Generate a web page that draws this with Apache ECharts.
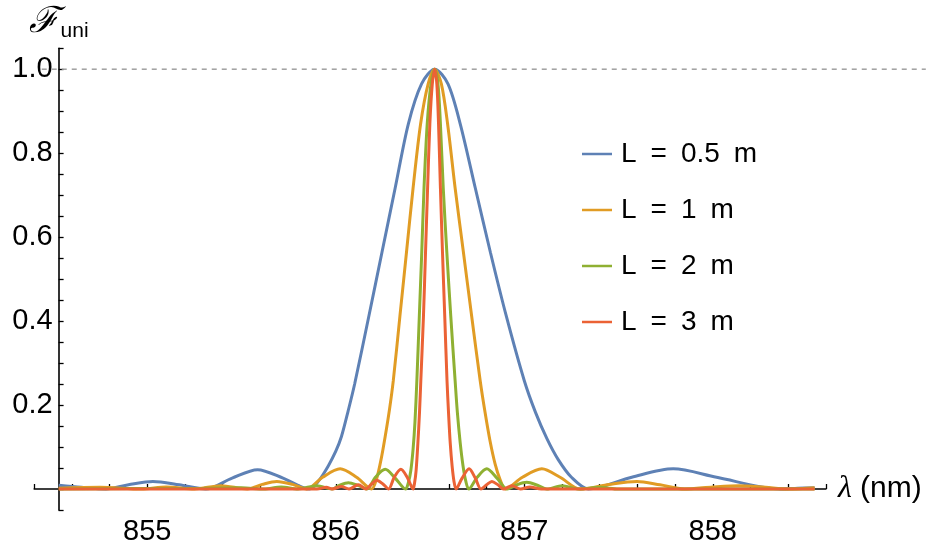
<!DOCTYPE html>
<html>
<head>
<meta charset="utf-8">
<script src="https://cdn.jsdelivr.net/npm/echarts@6/dist/echarts.min.js"></script>
<style>
  html, body { margin: 0; padding: 0; background: #fff; }
  #chart { width: 929px; height: 546px; }
</style>
</head>
<body>
<div id="chart"></div>
<script>
// legend names and colours
const seriesNames = ['L = 0.5 m', 'L = 1 m', 'L = 2 m', 'L = 3 m']
const colors = ['#5E81B5', '#E19C24', '#8FB032', '#EB6235']

// [wavelength nm, F_uni]
const curveL05 = [
  [854.53, 0.009], [854.65, 0.004], [854.78, 0], [854.9, 0.01], [855.03, 0.018], [855.17, 0.01],
  [855.31, 0], [855.45, 0.026], [855.585, 0.046], [855.72, 0.026], [855.86, 0], [855.91, 0.02],
  [855.96, 0.055], [856.0, 0.09], [856.03, 0.125], [856.065, 0.185], [856.10, 0.25],
  [856.175, 0.411], [856.245, 0.564], [856.315, 0.717], [856.385, 0.87], [856.455, 0.965],
  [856.525, 1], [856.595, 0.965], [856.66, 0.87], [856.74, 0.717], [856.82, 0.564],
  [856.905, 0.411], [857.0, 0.258], [857.06, 0.182], [857.12, 0.12], [857.18, 0.07],
  [857.25, 0.028], [857.34, 0], [857.57, 0.028], [857.79, 0.048], [858.02, 0.028],
  [858.36, 0], [858.45, 0.002], [858.54, 0.003]
]
const curveL1 = [
  [854.53, 0.002], [854.75, 0.004], [854.97, 0], [855.1, 0.005], [855.25, 0], [855.39, 0.008],
  [855.53, 0], [855.61, 0.011], [855.687, 0.018], [855.77, 0.011], [855.845, 0], [855.93, 0.028],
  [856.023, 0.048], [856.11, 0.028], [856.19, 0], [856.215, 0.022], [856.24, 0.07],
  [856.262, 0.125], [856.285, 0.19], [856.305, 0.258], [856.34, 0.411], [856.375, 0.564],
  [856.41, 0.717], [856.45, 0.87], [856.49, 0.965], [856.525, 1], [856.56, 0.965],
  [856.593, 0.87], [856.633, 0.717], [856.677, 0.564], [856.721, 0.411], [856.766, 0.258],
  [856.792, 0.182], [856.818, 0.115], [856.845, 0.06], [856.872, 0.022], [856.90, 0],
  [856.99, 0.028], [857.093, 0.048], [857.19, 0.028], [857.296, 0], [857.45, 0.011],
  [857.597, 0.018], [857.72, 0.01], [857.85, 0], [858.0, 0.005], [858.14, 0.008],
  [858.28, 0.004], [858.40, 0], [858.54, 0.003]
]
const curveL2 = [
  [854.53, 0], [855.3, 0.002], [855.5, 0.003], [855.62, 0], [855.71, 0.005], [855.8, 0],
  [855.9, 0.008], [855.98, 0], [856.02, 0.009], [856.067, 0.015], [856.12, 0.008], [856.165, 0],
  [856.21, 0.028], [856.262, 0.047], [856.315, 0.026], [856.37, 0], [856.385, 0.015],
  [856.398, 0.044], [856.41, 0.095], [856.42, 0.16], [856.43, 0.258], [856.443, 0.411],
  [856.456, 0.564], [856.468, 0.717], [856.485, 0.87], [856.505, 0.965], [856.525, 1],
  [856.542, 0.965], [856.555, 0.87], [856.57, 0.717], [856.589, 0.564], [856.61, 0.411],
  [856.633, 0.258], [856.645, 0.182], [856.66, 0.11], [856.675, 0.055], [856.69, 0.018],
  [856.705, 0], [856.75, 0.028], [856.801, 0.048], [856.855, 0.026], [856.91, 0],
  [856.96, 0.01], [857.013, 0.016], [857.07, 0.009], [857.12, 0], [857.2, 0.008],
  [857.29, 0], [857.4, 0.004], [857.5, 0], [858.54, 0]
]
const curveL3 = [
  [854.53, 0], [855.9, 0], [855.95, 0.004], [855.98, 0], [856.03, 0.006], [856.07, 0],
  [856.12, 0.01], [856.16, 0], [856.19, 0.012], [856.217, 0.021], [856.25, 0.012], [856.28, 0],
  [856.31, 0.028], [856.345, 0.047], [856.38, 0.027], [856.41, 0], [856.418, 0.015],
  [856.426, 0.044], [856.435, 0.106], [856.444, 0.182], [856.451, 0.258], [856.465, 0.411],
  [856.476, 0.564], [856.487, 0.717], [856.499, 0.87], [856.512, 0.965], [856.525, 1],
  [856.536, 0.965], [856.545, 0.87], [856.555, 0.717], [856.566, 0.564], [856.578, 0.411],
  [856.59, 0.258], [856.598, 0.182], [856.607, 0.11], [856.617, 0.055], [856.627, 0.018],
  [856.638, 0], [856.67, 0.026], [856.707, 0.048], [856.74, 0.026], [856.77, 0],
  [856.80, 0.01], [856.828, 0.018], [856.86, 0.01], [856.89, 0], [856.934, 0.008],
  [856.98, 0], [857.03, 0.005], [857.09, 0], [858.54, 0]
]
const curves = [curveL05, curveL1, curveL2, curveL3]

const refLevel = 1 // dashed line
const font = 'Liberation Sans'

const chart = echarts.init(document.getElementById('chart'))

const option = {
  animation: false,
  color: colors,
  grid: { left: 34.2, right: 103.1, top: 48.2, bottom: 18.2 },
  legend: {
    orient: 'vertical',
    left: 577,
    top: 134,
    icon: 'rect',
    itemWidth: 30,
    itemHeight: 2.5,
    itemGap: 26,
    formatter: name => name.replace(/ /g, '\u2002'),
    textStyle: { fontSize: 28, lineHeight: 30, color: '#000', fontFamily: font, padding: [0, 0, 0, 4] },
    data: seriesNames
  },
  xAxis: {
    type: 'value',
    min: 854.4,
    max: 858.6,
    interval: 0.2,
    name: '{i|λ} (nm)',
    nameLocation: 'end',
    nameGap: 12,
    nameTextStyle: {
      fontSize: 30, color: '#000', fontFamily: font, verticalAlign: 'middle',
      rich: { i: { fontSize: 32, fontStyle: 'italic', fontFamily: 'Liberation Serif', color: '#000' } }
    },
    axisLine: { onZero: true, lineStyle: { color: '#000', width: 1.6 } },
    axisTick: { inside: true, length: 5, lineStyle: { color: '#000', width: 1.3 } },
    axisLabel: {
      fontSize: 29, color: '#000', fontFamily: font, margin: 7,
      formatter: v => Math.abs(v - Math.round(v)) < 1e-6 ? String(Math.round(v)) : ''
    },
    splitLine: { show: false }
  },
  yAxis: {
    type: 'value',
    min: -0.05,
    max: 1.05,
    interval: 0.05,
    offset: -24.4,
    name: '{f|ℱ}{s|uni}',
    nameLocation: 'end',
    nameGap: 6,
    nameTextStyle: {
      align: 'center', verticalAlign: 'bottom',
      rich: {
        f: { fontSize: 36, fontStyle: 'italic', fontFamily: 'DejaVu Serif', color: '#000' },
        s: { fontSize: 21, fontFamily: font, color: '#000', padding: [18, 0, 0, 2] }
      }
    },
    axisLine: { show: true, onZero: false, lineStyle: { color: '#000', width: 1.6 } },
    axisTick: { inside: true, length: 5, lineStyle: { color: '#000', width: 1.3 } },
    axisLabel: {
      fontSize: 29, color: '#000', fontFamily: font, margin: 6,
      formatter: v => (v > 0.01 && Math.abs(v * 5 - Math.round(v * 5)) < 1e-6) ? v.toFixed(1) : ''
    },
    splitLine: { show: false }
  },
  series: curves.map((c, i) => ({
    name: seriesNames[i],
    type: 'line',
    data: c,
    smooth: 0.3,
    symbol: 'none',
    clip: true,
    lineStyle: { width: 3, color: colors[i] }
  }))
}

chart.setOption(option)

// dashed reference line at F = 1, spanning the whole plot range
const p0 = chart.convertToPixel({ gridIndex: 0 }, [854.44, refLevel])
const p1 = chart.convertToPixel({ gridIndex: 0 }, [859.13, refLevel])
chart.setOption({
  graphic: [{
    type: 'line',
    z: 1,
    shape: { x1: p0[0], y1: p0[1], x2: p1[0], y2: p1[1] },
    style: { stroke: '#999', lineWidth: 1.4, lineDash: [5, 5] }
  }]
})
</script>
</body>
</html>
